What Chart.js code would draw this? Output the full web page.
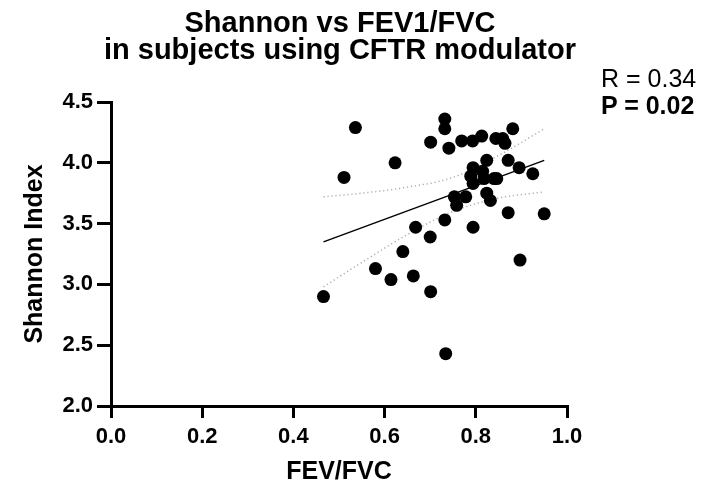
<!DOCTYPE html>
<html>
<head>
    <title>Shannon vs FEV1/FVC</title>
    <script src="https://cdn.jsdelivr.net/npm/chart.js"></script>
    <style>
        body {
            margin: 0;
            background: #ffffff;
            font-family: 'Liberation Sans', Arial, sans-serif;
        }

        .wrap {
            position: relative;
            width: 705px;
            height: 486px;
        }

        .title {
            position: absolute;
            left: 0;
            top: 9px;
            width: 680px;
            text-align: center;
            font-weight: bold;
            font-size: 29px;
            line-height: 27px;
            color: #000;
        }

        .stats {
            position: absolute;
            left: 601px;
            top: 65px;
            font-size: 25px;
            line-height: 26.6px;
            white-space: nowrap;
            color: #000;
        }

        canvas {
            position: absolute;
            left: 0;
            top: 0;
        }
    </style>
</head>
<body>
<div class="wrap">
    <canvas id="scatterChart" width="705" height="486"></canvas>
    <div class="title">Shannon vs FEV1/FVC<br>in subjects using CFTR modulator</div>
    <div class="stats">R = 0.34<br><b>P = 0.02</b></div>
</div>

<script>
    // Subjects: FEV1/FVC ratio and Shannon index
    const fevFvc = [0.466, 0.511, 0.536, 0.580, 0.614, 0.623, 0.640, 0.663, 0.668, 0.700,
        0.701, 0.701, 0.732, 0.732, 0.741, 0.732, 0.734, 0.753, 0.758, 0.769,
        0.778, 0.793, 0.813, 0.794, 0.789, 0.815, 0.818, 0.794, 0.840, 0.846,
        0.824, 0.871, 0.824, 0.832, 0.844, 0.859, 0.864, 0.881, 0.895, 0.925,
        0.871, 0.950, 0.794, 0.897];
    const shannon = [2.90, 3.88, 4.29, 3.13, 3.04, 4.00, 3.27, 3.07, 3.47, 3.39,
        2.94, 4.17, 4.36, 4.28, 4.12, 3.53, 2.43, 3.72, 3.65, 4.18,
        3.72, 4.18, 4.22, 3.96, 3.89, 3.93, 3.87, 3.83, 3.87, 3.87,
        4.02, 4.02, 3.75, 3.69, 4.20, 4.20, 4.16, 4.28, 3.96, 3.91,
        3.59, 3.58, 3.47, 3.20];

    // Linear fit and its 95% confidence band
    const fitX = [0.466, 0.950];
    const fitY = [3.35, 4.02];
    const bandX = [0.466, 0.55, 0.65, 0.75, 0.85, 0.95];
    const bandUpper = [3.72, 3.75, 3.80, 3.88, 4.06, 4.28];
    const bandLower = [2.98, 3.18, 3.41, 3.60, 3.71, 3.76];

    const xTicks = [0, 0.2, 0.4, 0.6, 0.8, 1.0];
    const yTicks = [2.0, 2.5, 3.0, 3.5, 4.0, 4.5];

    const toXY = (xs, ys) => xs.map((x, i) => ({ x: x, y: ys[i] }));

    const axisFont = { family: "'Liberation Sans', Arial, sans-serif", size: 22, weight: 'bold' };
    const titleFont = { family: "'Liberation Sans', Arial, sans-serif", size: 25, weight: 'bold', lineHeight: 1.08 };

    function bandLine(values) {
        return {
            type: 'line',
            data: toXY(bandX, values),
            borderColor: '#adadad',
            borderWidth: 1.5,
            borderDash: [1.2, 2.8],
            pointRadius: 0,
            cubicInterpolationMode: 'monotone',
            fill: false
        };
    }

    const ctx = document.getElementById('scatterChart').getContext('2d');
    new Chart(ctx, {
        type: 'scatter',
        data: {
            datasets: [
                {
                    data: toXY(fevFvc, shannon),
                    backgroundColor: '#000',
                    borderColor: '#000',
                    pointRadius: 6.5,
                    borderWidth: 0
                },
                {
                    type: 'line',
                    data: toXY(fitX, fitY),
                    borderColor: '#000',
                    borderWidth: 1.5,
                    pointRadius: 0,
                    fill: false
                },
                bandLine(bandUpper),
                bandLine(bandLower)
            ]
        },
        options: {
            responsive: false,
            animation: false,
            devicePixelRatio: 1,
            layout: { padding: { left: 0, right: 138, top: 102, bottom: 0 } },
            plugins: { legend: { display: false }, tooltip: { enabled: false }, title: { display: false } },
            scales: {
                x: {
                    type: 'linear',
                    min: xTicks[0],
                    max: xTicks[xTicks.length - 1],
                    afterBuildTicks: s => { s.ticks = xTicks.map(v => ({ value: v })); },
                    afterFit: s => { s.height = 80; },
                    ticks: { callback: v => Number(v).toFixed(1), font: axisFont, color: '#000', padding: 6, maxRotation: 0 },
                    grid: { drawOnChartArea: false, drawTicks: true, tickLength: 12, color: '#000', lineWidth: 3 },
                    border: { color: '#000', width: 3 },
                    title: { display: true, text: 'FEV/FVC', font: titleFont, color: '#000', padding: { top: 0, bottom: 0 } }
                },
                y: {
                    type: 'linear',
                    min: yTicks[0],
                    max: yTicks[yTicks.length - 1],
                    afterBuildTicks: s => { s.ticks = yTicks.map(v => ({ value: v })); },
                    afterFit: s => { s.width = 111; },
                    ticks: { callback: v => Number(v).toFixed(1), font: axisFont, color: '#000', padding: 4 },
                    grid: { drawOnChartArea: false, drawTicks: true, tickLength: 14, color: '#000', lineWidth: 3 },
                    border: { color: '#000', width: 3 },
                    title: { display: true, text: 'Shannon Index', font: titleFont, color: '#000', padding: { top: 21.5, bottom: 0 } }
                }
            }
        }
    });
</script>
</body>
</html>
